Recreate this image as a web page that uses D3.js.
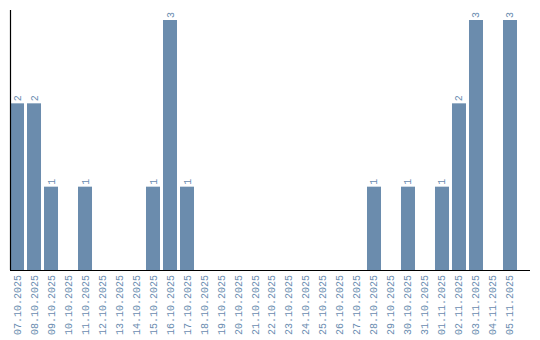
<html>
<head>
<script src="https://cdnjs.cloudflare.com/ajax/libs/d3/7.8.5/d3.min.js"></script>
<style>
  body { margin: 0; background: #fff; }
</style>
</head>
<body>
<svg id="chart" width="540" height="340"></svg>
<script>
// dates and counts
var dates = ['07.10.2025','08.10.2025','09.10.2025','10.10.2025','11.10.2025','12.10.2025',
    '13.10.2025','14.10.2025','15.10.2025','16.10.2025','17.10.2025','18.10.2025','19.10.2025',
    '20.10.2025','21.10.2025','22.10.2025','23.10.2025','24.10.2025','25.10.2025','26.10.2025',
    '27.10.2025','28.10.2025','29.10.2025','30.10.2025','31.10.2025','01.11.2025','02.11.2025',
    '03.11.2025','04.11.2025','05.11.2025'];
var counts = [2,2,1,0,1,0,0,0,1,3,1,0,0,0,0,0,0,0,0,0,0,1,0,1,0,1,2,3,0,3];

var svg = d3.select('#chart');
var barColor = '#6b8cad';
var textColor = '#6a8cb0';
var font = 'Liberation Mono';

var x = d3.scaleBand()
    .domain(dates)
    .range([10, 517])
    .paddingInner(0.176)
    .paddingOuter(0);

var y = d3.scaleLinear()
    .domain([0, 3])
    .range([270, 20]);

// bars
svg.selectAll('rect.bar')
    .data(dates)
    .enter()
    .filter(function (d, i) { return counts[i] > 0; })
    .append('rect')
    .attr('class', 'bar')
    .attr('x', function (d) { return x(d); })
    .attr('y', function (d) { return y(counts[dates.indexOf(d)]); })
    .attr('width', x.bandwidth())
    .attr('height', function (d) { return y(0) - y(counts[dates.indexOf(d)]); })
    .attr('fill', barColor);

// value labels, rotated
svg.selectAll('text.val')
    .data(dates)
    .enter()
    .filter(function (d, i) { return counts[i] > 0; })
    .append('text')
    .attr('class', 'val')
    .attr('transform', function (d) {
        var cx = x(d) + x.bandwidth() / 2;
        return 'translate(' + cx + ',' + (y(counts[dates.indexOf(d)]) - 2) + ') rotate(-90)';
    })
    .attr('dy', '0.35em')
    .attr('text-anchor', 'start')
    .attr('font-family', font)
    .attr('font-size', 10)
    .attr('fill', textColor)
    .text(function (d) { return counts[dates.indexOf(d)]; });

// x axis baseline
svg.append('line')
    .attr('x1', 10).attr('x2', 530)
    .attr('y1', y(0) + 0.5).attr('y2', y(0) + 0.5)
    .attr('stroke', '#000').attr('stroke-width', 1.2);

// y axis line
svg.append('line')
    .attr('x1', 10.5).attr('x2', 10.5)
    .attr('y1', 10).attr('y2', y(0))
    .attr('stroke', '#000').attr('stroke-width', 1.2);

// date labels
svg.selectAll('text.date')
    .data(dates)
    .enter()
    .append('text')
    .attr('class', 'date')
    .attr('transform', function (d) {
        return 'translate(' + (x(d) + x.bandwidth() / 2) + ',' + (y(0) + 5) + ') rotate(-90)';
    })
    .attr('dy', '0.35em')
    .attr('text-anchor', 'end')
    .attr('font-family', font)
    .attr('font-size', 10)
    .attr('fill', textColor)
    .text(function (d) { return d; });
</script>
</body>
</html>
